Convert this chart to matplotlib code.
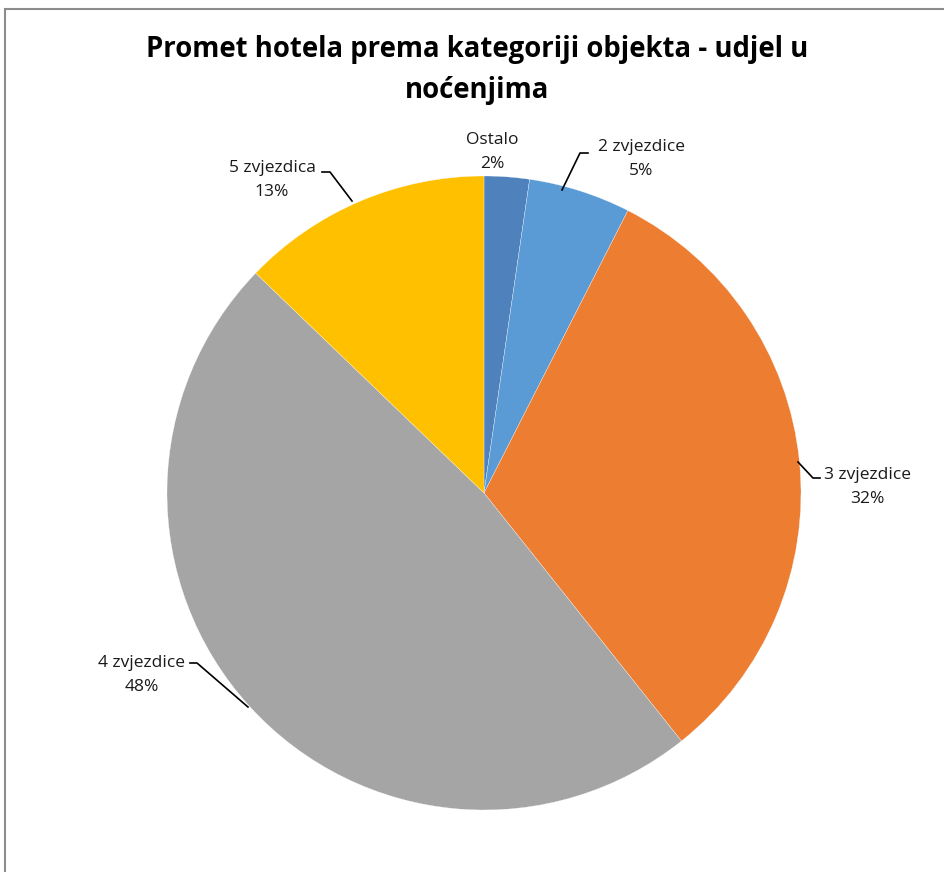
import numpy as np
import matplotlib.pyplot as plt
from matplotlib.patches import Rectangle

# podaci - udjel u nocenjima (%)
kategorije = ['Ostalo', '2 zvjezdice', '3 zvjezdice', '4 zvjezdice', '5 zvjezdica']
udjeli = [2.3, 5.2, 31.8, 47.9, 12.8]
boje = ['#4F81BD', '#5B9BD5', '#ED7D31', '#A5A5A5', '#FFC000']

W, H = 945, 872
fig = plt.figure(figsize=(W / 100, H / 100), dpi=100)
ax = fig.add_axes([0, 0, 1, 1])

# okvir grafikona (lijevo i gore)
fig.patches.append(Rectangle((5 / W, -0.1), 1.2, (H - 9) / H + 0.1, transform=fig.transFigure,
                             fill=False, edgecolor='#8c8c8c', linewidth=1.5))

cx, cy, r = 484, H - 493, 317
wedges, _ = ax.pie(udjeli, colors=boje, startangle=90, counterclock=False,
                   center=(cx, cy), radius=r, frame=True,
                   wedgeprops=dict(edgecolor='white', linewidth=0.2))
ax.set_xlim(0, W)
ax.set_ylim(0, H)
ax.axis('off')

# pozicije oznaka (pikseli od vrha) i linije
oznake = {
    'Ostalo': (492, 152, None),
    '2 zvjezdice': (641, 159, [(588, 153), (580, 153), (562, 190)]),
    '3 zvjezdice': (867, 487, [(820, 478), (813, 478), (798, 462)]),
    '4 zvjezdice': (142, 675, [(190, 663), (197, 663), (248, 707)]),
    '5 zvjezdica': (272, 180, [(322, 172), (330, 172), (352, 201)]),
}
ukupno = sum(udjeli)
for k, v in zip(kategorije, udjeli):
    x, y, linija = oznake[k]
    ax.text(x, H - y, f'{k}\n{round(v / ukupno * 100)}%', ha='center', va='center',
            fontsize=12.5, family=['Open Sans', 'DejaVu Sans'], linespacing=1.65, color='#1a1a1a')
    if linija:
        xs = [p[0] for p in linija]
        ys = [H - p[1] for p in linija]
        ax.plot(xs, ys, color='black', linewidth=1.2)

ax.text(477, H - 70, 'Promet hotela prema kategoriji objekta - udjel u\nnoćenjima',
        ha='center', va='center', fontsize=19.8, fontweight='bold',
        family=['Open Sans', 'DejaVu Sans'], linespacing=1.55)

plt.savefig('out.png', dpi=100)
